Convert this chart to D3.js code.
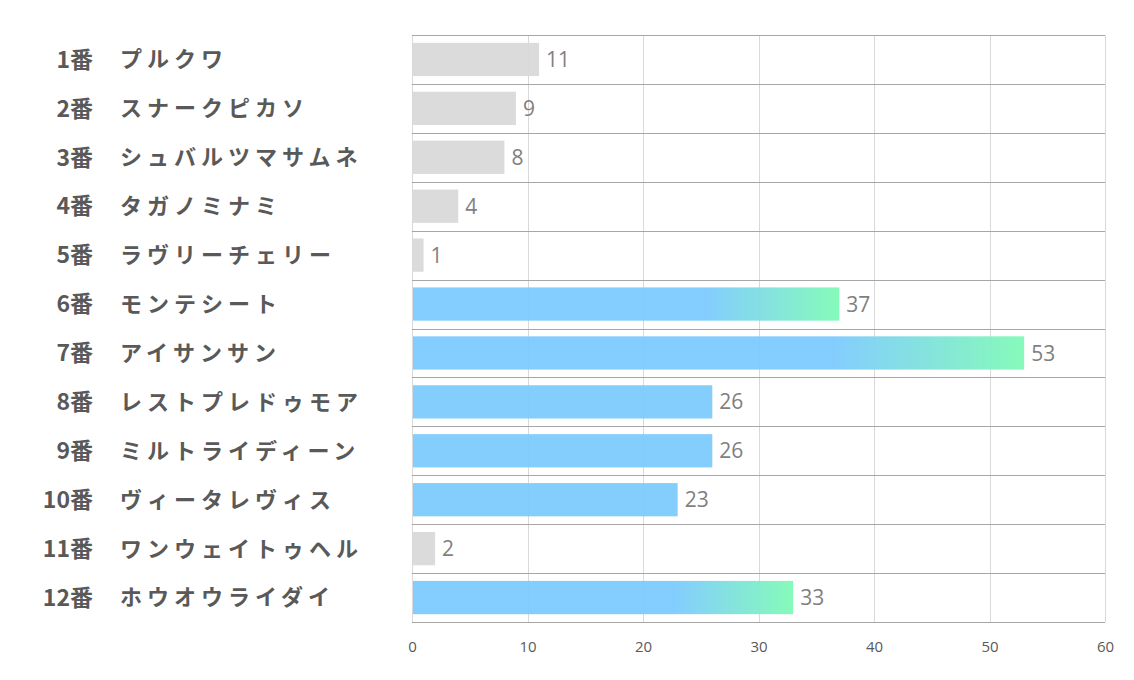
<!DOCTYPE html>
<html>
<head>
<meta charset="utf-8">
<script src="https://cdn.jsdelivr.net/npm/d3@7"></script>
<style>
  body { margin: 0; background: #fff; }
  svg { display: block; }
</style>
</head>
<body>
<div id="chart"></div>
<script>
// horse numbers, names and values, top to bottom
var nums = ["1番", "2番", "3番", "4番", "5番", "6番", "7番", "8番", "9番", "10番", "11番", "12番"];
var names = ["プルクワ", "スナークピカソ", "シュバルツマサムネ", "タガノミナミ", "ラヴリーチェリー", "モンテシート",
             "アイサンサン", "レストプレドゥモア", "ミルトライディーン", "ヴィータレヴィス", "ワンウェイトゥヘル", "ホウオウライダイ"];
var values = [11, 9, 8, 4, 1, 37, 53, 26, 26, 23, 2, 33];
// bar style per row: plain gray, blue, or blue fading to green
var kinds = ["gray", "gray", "gray", "gray", "gray", "top", "top", "blue", "blue", "blue", "gray", "top"];
var xTicks = [0, 10, 20, 30, 40, 50, 60];

var W = 1134, H = 680;
var margin = {top: 35, right: 29, bottom: 58, left: 412};
var width = W - margin.left - margin.right,
    height = H - margin.top - margin.bottom;

var x = d3.scaleLinear().domain([0, 60]).range([0, width]);
var y = d3.scaleBand().domain(d3.range(nums.length)).range([0, height]).paddingInner(0.32).paddingOuter(0.16);

var fills = {gray: "#d9d9d9", blue: "#7dcbfe", top: "url(#hot)"};

var svg = d3.select("#chart").append("svg")
    .attr("width", W)
    .attr("height", H);

var defs = svg.append("defs");
var grad = defs.append("linearGradient")
    .attr("id", "hot")
    .attr("x1", "0").attr("x2", "1").attr("y1", "0").attr("y2", "0");
grad.append("stop").attr("offset", "0.69").attr("stop-color", "#7dcbfe");
grad.append("stop").attr("offset", "1").attr("stop-color", "#7ffab6");

var g = svg.append("g")
    .attr("transform", "translate(" + margin.left + "," + margin.top + ")");

// vertical grid
g.append("g")
    .selectAll("line")
    .data(xTicks)
    .join("line")
    .attr("x1", d => Math.round(x(d)) + 0.5)
    .attr("x2", d => Math.round(x(d)) + 0.5)
    .attr("y1", 0)
    .attr("y2", height)
    .attr("stroke", "#d9d9d9")
    .attr("stroke-width", 1);

// row separators
var step = height / nums.length;
g.append("g")
    .selectAll("line")
    .data(d3.range(nums.length + 1))
    .join("line")
    .attr("x1", 0)
    .attr("x2", width)
    .attr("y1", d => Math.round(d * step) + 0.5)
    .attr("y2", d => Math.round(d * step) + 0.5)
    .attr("stroke", "#a6a6a6")
    .attr("stroke-width", 1);

// bars
g.append("g")
    .selectAll("rect")
    .data(values)
    .join("rect")
    .attr("x", x(0) + 1)
    .attr("y", (d, i) => y(i))
    .attr("width", d => x(d) - 1)
    .attr("height", y.bandwidth())
    .attr("fill", (d, i) => fills[kinds[i]])
    .attr("fill-opacity", 0.95);

// value labels
g.append("g")
    .selectAll("text")
    .data(values)
    .join("text")
    .attr("x", d => x(d) + 7)
    .attr("y", (d, i) => y(i) + y.bandwidth() / 2)
    .attr("dy", "0.36em")
    .attr("font-family", "'Open Sans', 'Noto Sans', sans-serif")
    .attr("font-size", 21)
    .attr("fill", "#7f7f7f")
    .text(d => d);

// x axis
var xAxis = d3.axisBottom(x).tickValues(xTicks).tickSize(0).tickPadding(0);
var ax = g.append("g")
    .attr("transform", "translate(0," + (height + 25) + ")")
    .call(xAxis);
ax.select(".domain").remove();
ax.selectAll("text")
    .attr("font-family", "'Open Sans', 'Noto Sans', sans-serif")
    .attr("font-size", 15)
    .attr("fill", "#595959")
    .attr("dy", "0.32em");

// category labels
var lab = svg.append("g")
    .attr("transform", "translate(0," + margin.top + ")");
lab.selectAll("text.num")
    .data(nums)
    .join("text")
    .attr("class", "num")
    .attr("x", 93)
    .attr("y", (d, i) => y(i) + y.bandwidth() / 2)
    .attr("dy", "0.36em")
    .attr("text-anchor", "end")
    .attr("font-family", "'Noto Sans CJK JP', sans-serif")
    .attr("font-weight", "bold")
    .attr("font-size", 23)
    .attr("fill", "#595959")
    .text(d => d);
lab.selectAll("text.name")
    .data(names)
    .join("text")
    .attr("class", "name")
    .attr("x", 120)
    .attr("y", (d, i) => y(i) + y.bandwidth() / 2)
    .attr("dy", "0.36em")
    .attr("font-family", "'Noto Sans CJK JP', sans-serif")
    .attr("font-weight", "bold")
    .attr("font-size", 22)
    .attr("letter-spacing", 5)
    .attr("fill", "#595959")
    .text(d => d);
</script>
</body>
</html>
